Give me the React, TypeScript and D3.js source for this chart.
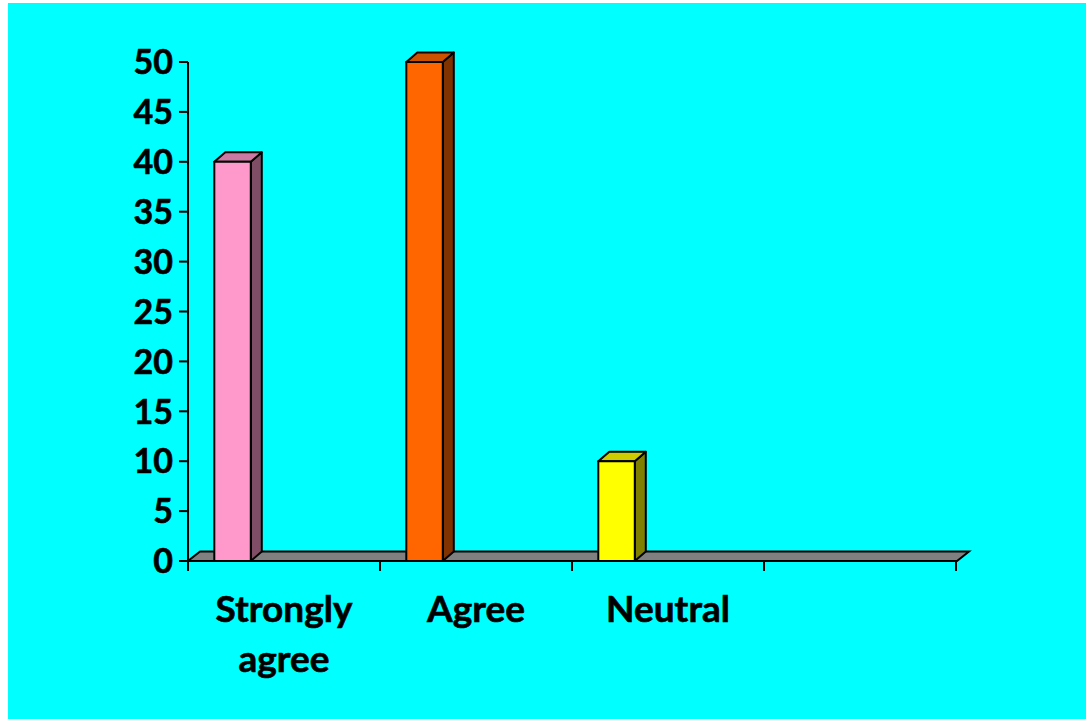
import React from "react";
import * as d3 from "d3";

const categories = ["Strongly agree", "Agree", "Neutral", ""];
const values = [40, 50, 10, null];
const frontColors = ["#FF99CC", "#FF6600", "#FFFF00", null];
const yTicks = [0, 5, 10, 15, 20, 25, 30, 35, 40, 45, 50];

const W = 1086;
const H = 719;
const left = 188;
const right = 956;
const top = 62;
const bottom = 561;
const depthX = 11;
const depthY = 9.5;
const font = "Lato, 'Open Sans', sans-serif";

export default function App() {
  const x = d3.scaleBand<string>().domain(categories).range([left, right]);
  const y = d3.scaleLinear().domain([0, 50]).range([bottom, top]);
  const bw = x.bandwidth();

  const shade = (c: string, k: number) => {
    const col = d3.rgb(c);
    return d3.rgb(col.r * k, col.g * k, col.b * k).formatHex();
  };

  const line = d3.line();

  return (
    <svg
      width={W}
      height={H}
      style={{ position: "absolute", left: 0, top: 0, display: "block" }}
    >
      <rect x={8} y={3} width={W - 8} height={H - 3} fill="#00FFFF" />

      {/* floor */}
      <path
        d={
          line([
            [left, bottom],
            [right + 1, bottom],
            [right + 1 + depthX + 1, bottom - depthY],
            [left + depthX + 1, bottom - depthY],
          ])! + "Z"
        }
        fill="#808080"
        stroke="#000"
        strokeWidth={2}
        strokeLinejoin="miter"
      />

      {/* y axis */}
      <line x1={left} x2={left} y1={y(50)} y2={bottom + 1} stroke="#000" strokeWidth={2} />
      {yTicks.map((t) => (
        <g key={t}>
          <line x1={left - 9} x2={left} y1={y(t)} y2={y(t)} stroke="#000" strokeWidth={2} />
          <text
            x={173}
            y={y(t)}
            dy="0.36em"
            textAnchor="end"
            fontFamily={font}
            fontWeight={700}
            fontSize={34}
            fill="#000"
            stroke="#000"
            strokeWidth={0.6}
          >
            {t}
          </text>
        </g>
      ))}

      {/* x axis ticks */}
      {[...categories.map((c) => x(c)!), right].map((px, i) => (
        <line key={i} x1={px} x2={px} y1={bottom} y2={bottom + 10} stroke="#000" strokeWidth={2} />
      ))}

      {/* bars */}
      {categories.map((c, i) => {
        const v = values[i];
        const col = frontColors[i];
        if (v == null || col == null) return null;
        const x0 = x(c)! + bw * 0.137;
        const x1 = x0 + bw * 0.19;
        const yv = y(v);
        return (
          <g key={c} stroke="#000" strokeWidth={2} strokeLinejoin="round">
            <path
              d={line([[x1, yv], [x1 + depthX, yv - depthY], [x1 + depthX, bottom - depthY], [x1, bottom]])! + "Z"}
              fill={shade(col, 0.5)}
            />
            <path
              d={line([[x0, yv], [x0 + depthX, yv - depthY], [x1 + depthX, yv - depthY], [x1, yv]])! + "Z"}
              fill={shade(col, 0.8)}
            />
            <rect x={x0} y={yv} width={x1 - x0} height={bottom - yv} fill={col} />
          </g>
        );
      })}

      {/* category labels */}
      {categories.map((c) => {
        const words = c === "Strongly agree" ? ["Strongly", "agree"] : [c];
        const cx = x(c)! + bw / 2;
        return (
          <text
            key={c}
            x={cx}
            y={622}
            textAnchor="middle"
            fontFamily={font}
            fontWeight={700}
            fontSize={37}
            fill="#000"
            stroke="#000"
            strokeWidth={0.6}
          >
            {words.map((w, j) => (
              <tspan key={j} x={cx} y={622 + j * 50}>
                {w}
              </tspan>
            ))}
          </text>
        );
      })}
    </svg>
  );
}
